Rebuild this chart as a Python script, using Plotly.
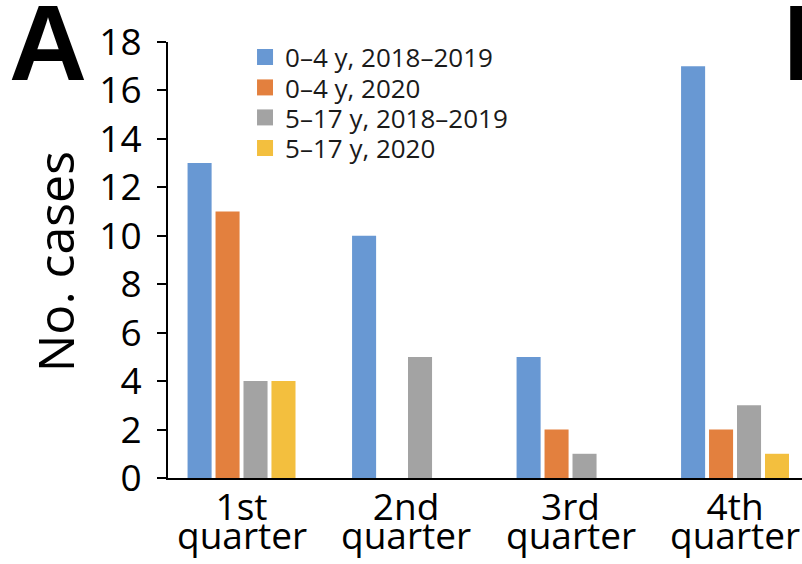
import plotly.graph_objects as go

# Quarterly case counts by age group and period
quarters = ["1st", "2nd", "3rd", "4th"]
series_names = ["0–4 y, 2018–2019", "0–4 y, 2020", "5–17 y, 2018–2019", "5–17 y, 2020"]
young_2018_2019 = [13, 10, 5, 17]
young_2020 = [11, 0, 2, 2]
older_2018_2019 = [4, 5, 1, 3]
older_2020 = [4, 0, 0, 1]
y_ticks = [0, 2, 4, 6, 8, 10, 12, 14, 16, 18]

series_values = [young_2018_2019, young_2020, older_2018_2019, older_2020]
colors = ["#6898D3", "#E3803E", "#A3A3A3", "#F3BF3E"]

FONT = "Open Sans"

# one legend per series so the rows can be spaced tightly
legend_ids = ["legend", "legend2", "legend3", "legend4"]
legend_y = [0.9656, 0.8956, 0.8268, 0.7569]

fig = go.Figure()
for name, vals, col in zip(series_names, series_values, colors):
    fig.add_trace(go.Bar(x=quarters, y=vals, name=name, showlegend=False,
                         marker=dict(color=col, line=dict(width=0))))

# legend entries with larger square swatches
for name, col, lid in zip(series_names, colors, legend_ids):
    fig.add_trace(go.Scatter(x=[None], y=[None], mode="markers", name=name, legend=lid,
                             marker=dict(symbol="square", size=16, color=col, line=dict(width=0)),
                             hoverinfo="skip"))

# second line of each category label
for q in quarters:
    fig.add_annotation(x=q, xref="x", y=-0.066, yref="paper", text="quarter",
                       showarrow=False, yanchor="top", xanchor="center",
                       font=dict(family=FONT, size=37, color="black"))

# panel letters
fig.add_annotation(x=-0.252, xref="paper", y=1.0, yref="paper", text="<b>A</b>",
                   showarrow=False, xanchor="left", yanchor="middle", borderpad=0,
                   font=dict(family="Liberation Sans", size=108, color="black"))
fig.add_annotation(x=0.968, xref="paper", y=1.0, yref="paper", text="<b>B</b>",
                   showarrow=False, xanchor="left", yanchor="middle", borderpad=0,
                   font=dict(family="Liberation Sans", size=108, color="black"))

# y title
fig.add_annotation(x=-0.178, xref="paper", y=0.495, yref="paper", text="No. cases",
                   showarrow=False, textangle=-90, xanchor="center", yanchor="middle",
                   font=dict(family=FONT, size=50, color="black"))

# short extension of the baseline to the left of the y axis
fig.add_shape(type="line", xref="paper", yref="paper", x0=-0.016, x1=0, y0=0, y1=0,
              line=dict(color="black", width=2))

legend_style = dict(x=0.1215, xanchor="left", yanchor="middle",
                    font=dict(family=FONT, size=26, color="#1a1a1a"),
                    bgcolor="rgba(0,0,0,0)", itemwidth=30, itemsizing="trace")

fig.update_layout(
    width=802, height=564,
    margin=dict(l=168, r=0, t=42, b=86),
    plot_bgcolor="white", paper_bgcolor="white",
    barmode="group", bargap=0.32, bargroupgap=0.14,
    xaxis=dict(range=[-0.447, 3.407], showline=True, linecolor="black", linewidth=2,
               ticks="", showgrid=False, zeroline=False, ticklabelstandoff=-4,
               tickfont=dict(family=FONT, size=37, color="black")),
    yaxis=dict(range=[0, 18], tickvals=y_ticks, showline=True, linecolor="black",
               linewidth=2, ticks="outside", ticklen=9, tickwidth=2, tickcolor="black",
               showgrid=False, zeroline=False, ticklabelstandoff=8,
               tickfont=dict(family=FONT, size=37, color="black")),
)
for lid, ly in zip(legend_ids, legend_y):
    fig.update_layout({lid: dict(legend_style, y=ly)})

fig.write_html("out.html")
